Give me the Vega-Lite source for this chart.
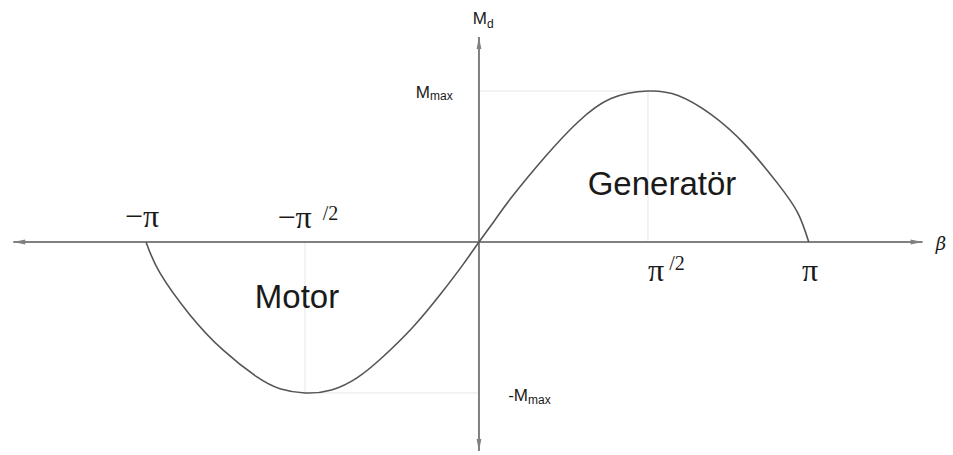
{
  "$schema": "https://vega.github.io/schema/vega-lite/v6.json",
  "width": 953,
  "height": 455,
  "autosize": {"type": "fit", "contains": "padding"},
  "padding": 0,
  "background": "white",
  "config": {"view": {"stroke": null}},
  "datasets": {
    "curve": [
      {"x": -3.16, "y": 0}, {"x": -3.028, "y": -0.205}, {"x": -2.743, "y": -0.483}, {"x": -2.43, "y": -0.715},
      {"x": -2.107, "y": -0.894}, {"x": -1.889, "y": -0.972}, {"x": -1.651, "y": -1.0}, {"x": -1.4, "y": -0.98},
      {"x": -1.158, "y": -0.9}, {"x": -0.911, "y": -0.76}, {"x": -0.626, "y": -0.563}, {"x": -0.37, "y": -0.35},
      {"x": -0.152, "y": -0.15}, {"x": 0, "y": 0}, {"x": 0.152, "y": 0.146}, {"x": 0.304, "y": 0.291},
      {"x": 0.626, "y": 0.563}, {"x": 0.94, "y": 0.795}, {"x": 1.253, "y": 0.95}, {"x": 1.604, "y": 1.0},
      {"x": 1.889, "y": 0.97}, {"x": 2.202, "y": 0.845}, {"x": 2.525, "y": 0.645}, {"x": 2.838, "y": 0.385},
      {"x": 3.028, "y": 0.19}, {"x": 3.13, "y": 0}
    ],
    "guides": [
      {"x": 0, "y": 1.0, "x2": 1.604, "y2": 1.0},
      {"x": 1.604, "y": 0, "x2": 1.604, "y2": 1.0},
      {"x": -1.651, "y": 0, "x2": -1.651, "y2": -1.0},
      {"x": -1.651, "y": -1.0, "x2": 0, "y2": -1.0}
    ],
    "axes": [
      {"x": -4.42, "y": 0, "x2": 4.21, "y2": 0},
      {"x": 0, "y": -1.384, "x2": 0, "y2": 1.358}
    ],
    "arrows": [
      {"x": 4.21, "y": 0, "dir": "right"},
      {"x": -4.42, "y": 0, "dir": "left"},
      {"x": 0, "y": 1.358, "dir": "up"},
      {"x": 0, "y": -1.384, "dir": "down"}
    ],
    "big": [
      {"x": 1.737, "y": 0.377, "t": "Generatör"},
      {"x": -1.727, "y": -0.371, "t": "Motor"}
    ],
    "pi": [
      {"x": -3.199, "y": 0.166, "t": "−π"},
      {"x": -1.75, "y": 0.159, "t": "−π"},
      {"x": 1.68, "y": -0.192, "t": "π"},
      {"x": 3.142, "y": -0.192, "t": "π"}
    ],
    "frac": [
      {"x": -1.41, "y": 0.185, "t": "/2"},
      {"x": 1.88, "y": -0.146, "t": "/2"}
    ],
    "mlab": [
      {"x": 0.076, "y": 1.477, "t": "M"},
      {"x": -0.465, "y": 0.987, "t": "M"},
      {"x": 0.465, "y": -1.02, "t": "-M"}
    ],
    "sub": [
      {"x": 0.076, "y": 1.444, "t": "d"},
      {"x": -0.465, "y": 0.967, "t": "max"},
      {"x": 0.465, "y": -1.046, "t": "max"}
    ],
    "beta": [
      {"x": 4.385, "y": -0.02, "t": "β"}
    ]
  },
  "layer": [
    {
      "data": {"name": "guides"},
      "mark": {"type": "rule", "color": "#e6e6e6", "strokeWidth": 1},
      "encoding": {
        "x": {"field": "x", "type": "quantitative", "scale": {"domain": [-4.546, 4.499], "nice": false, "zero": false}, "axis": null},
        "y": {"field": "y", "type": "quantitative", "scale": {"domain": [-1.411, 1.603], "nice": false, "zero": false}, "axis": null},
        "x2": {"field": "x2"},
        "y2": {"field": "y2"}
      }
    },
    {
      "data": {"name": "axes"},
      "mark": {"type": "rule", "color": "#808080", "strokeWidth": 2},
      "encoding": {
        "x": {"field": "x", "type": "quantitative", "scale": {"domain": [-4.546, 4.499], "nice": false, "zero": false}, "axis": null},
        "y": {"field": "y", "type": "quantitative", "scale": {"domain": [-1.411, 1.603], "nice": false, "zero": false}, "axis": null},
        "x2": {"field": "x2"},
        "y2": {"field": "y2"}
      }
    },
    {
      "data": {"name": "arrows"},
      "mark": {"type": "point", "filled": true, "color": "#808080", "size": 144, "opacity": 1},
      "encoding": {
        "x": {"field": "x", "type": "quantitative", "scale": {"domain": [-4.546, 4.499], "nice": false, "zero": false}, "axis": null},
        "y": {"field": "y", "type": "quantitative", "scale": {"domain": [-1.411, 1.603], "nice": false, "zero": false}, "axis": null},
        "shape": {"field": "dir", "type": "nominal", "legend": null,
          "scale": {"domain": ["right", "left", "up", "down"],
                    "range": ["M0,0L-2,-0.4L-2,0.4Z", "M0,0L2,-0.4L2,0.4Z", "M0,0L-0.4,2L0.4,2Z", "M0,0L-0.4,-2L0.4,-2Z"]}}
      }
    },
    {
      "data": {"name": "curve"},
      "mark": {"type": "line", "color": "#555555", "strokeWidth": 1.6, "interpolate": "natural"},
      "encoding": {
        "x": {"field": "x", "type": "quantitative", "scale": {"domain": [-4.546, 4.499], "nice": false, "zero": false}, "axis": null},
        "y": {"field": "y", "type": "quantitative", "scale": {"domain": [-1.411, 1.603], "nice": false, "zero": false}, "axis": null}
      }
    },
    {
      "data": {"name": "big"},
      "mark": {"type": "text", "font": "Liberation Sans", "fontSize": 33, "color": "#1a1a1a", "align": "center", "baseline": "middle"},
      "encoding": {
        "x": {"field": "x", "type": "quantitative", "scale": {"domain": [-4.546, 4.499], "nice": false, "zero": false}, "axis": null},
        "y": {"field": "y", "type": "quantitative", "scale": {"domain": [-1.411, 1.603], "nice": false, "zero": false}, "axis": null},
        "text": {"field": "t"}
      }
    },
    {
      "data": {"name": "pi"},
      "mark": {"type": "text", "font": "Liberation Serif", "fontSize": 32, "color": "#1a1a1a", "align": "center", "baseline": "middle"},
      "encoding": {
        "x": {"field": "x", "type": "quantitative", "scale": {"domain": [-4.546, 4.499], "nice": false, "zero": false}, "axis": null},
        "y": {"field": "y", "type": "quantitative", "scale": {"domain": [-1.411, 1.603], "nice": false, "zero": false}, "axis": null},
        "text": {"field": "t"}
      }
    },
    {
      "data": {"name": "frac"},
      "mark": {"type": "text", "font": "Liberation Serif", "fontSize": 20, "color": "#1a1a1a", "align": "center", "baseline": "middle"},
      "encoding": {
        "x": {"field": "x", "type": "quantitative", "scale": {"domain": [-4.546, 4.499], "nice": false, "zero": false}, "axis": null},
        "y": {"field": "y", "type": "quantitative", "scale": {"domain": [-1.411, 1.603], "nice": false, "zero": false}, "axis": null},
        "text": {"field": "t"}
      }
    },
    {
      "data": {"name": "mlab"},
      "mark": {"type": "text", "font": "Liberation Sans", "fontSize": 17, "color": "#1a1a1a", "align": "right", "baseline": "middle"},
      "encoding": {
        "x": {"field": "x", "type": "quantitative", "scale": {"domain": [-4.546, 4.499], "nice": false, "zero": false}, "axis": null},
        "y": {"field": "y", "type": "quantitative", "scale": {"domain": [-1.411, 1.603], "nice": false, "zero": false}, "axis": null},
        "text": {"field": "t"}
      }
    },
    {
      "data": {"name": "sub"},
      "mark": {"type": "text", "font": "Liberation Sans", "fontSize": 12, "color": "#1a1a1a", "align": "left", "baseline": "middle"},
      "encoding": {
        "x": {"field": "x", "type": "quantitative", "scale": {"domain": [-4.546, 4.499], "nice": false, "zero": false}, "axis": null},
        "y": {"field": "y", "type": "quantitative", "scale": {"domain": [-1.411, 1.603], "nice": false, "zero": false}, "axis": null},
        "text": {"field": "t"}
      }
    },
    {
      "data": {"name": "beta"},
      "mark": {"type": "text", "font": "DejaVu Serif", "fontStyle": "italic", "fontSize": 18, "color": "#1a1a1a", "align": "center", "baseline": "middle"},
      "encoding": {
        "x": {"field": "x", "type": "quantitative", "scale": {"domain": [-4.546, 4.499], "nice": false, "zero": false}, "axis": null},
        "y": {"field": "y", "type": "quantitative", "scale": {"domain": [-1.411, 1.603], "nice": false, "zero": false}, "axis": null},
        "text": {"field": "t"}
      }
    }
  ]
}
